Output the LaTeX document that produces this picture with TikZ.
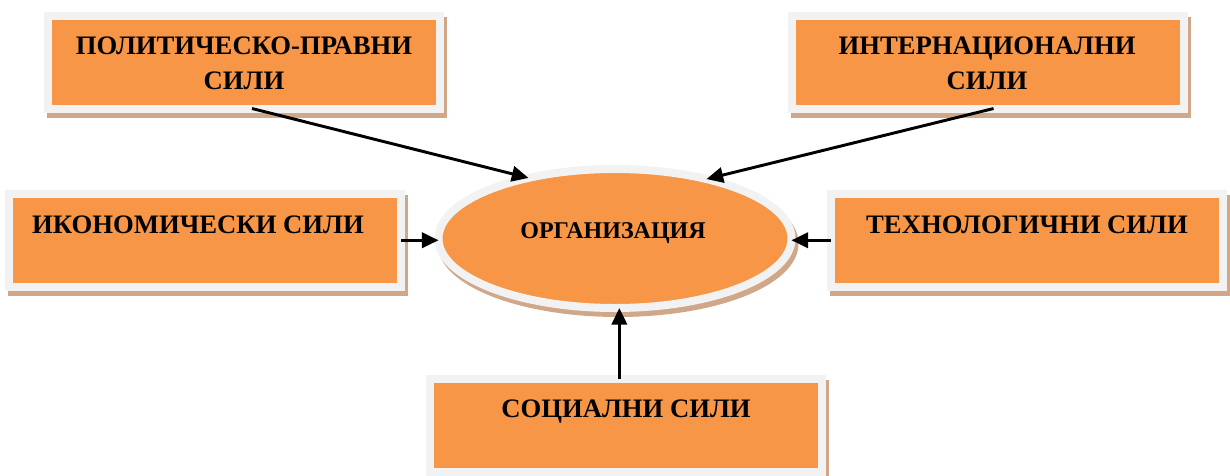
\documentclass[tikz,border=0pt]{standalone}
\usepackage{fontspec}
\setmainfont{Liberation Serif}
\usetikzlibrary{shapes.geometric,arrows.meta}
\definecolor{forceorange}{HTML}{F79646}
\definecolor{rimgray}{HTML}{F2F2F2}
\definecolor{shadowtan}{HTML}{D0A789}

\begin{document}
\begin{tikzpicture}[x=0.75pt,y=-0.75pt,
  withshadow/.style={preaction={draw=shadowtan, fill=shadowtan,
      transform canvas={shift={(3,5)}}}},
  forcebox/.style={rectangle, fill=forceorange, draw=rimgray, line width=6pt,
    outer sep=0pt, inner sep=0pt, minimum width=294pt, minimum height=69.4pt,
    withshadow},
  orgshape/.style={ellipse, fill=forceorange, draw=rimgray, line width=6pt,
    outer sep=0pt, inner sep=0pt, minimum width=264.75pt, minimum height=104.25pt,
    withshadow},
  boxtext/.style={inner sep=0pt, align=center,
    font=\fontsize{20}{26.25}\selectfont\bfseries},
  orgtext/.style={inner sep=0pt, font=\fontsize{18}{21}\selectfont\bfseries},
  arr/.style={-{Triangle[length=12.5pt,width=11.5pt]}, line width=2.2pt, black}]

\useasboundingbox (0,0) rectangle (1230,475);

% central ellipse
\node[orgshape] (org) at (615,238.5) {};
\node[orgtext, anchor=base] (orglabel) at (613,238) {ОРГАНИЗАЦИЯ};

% surrounding forces
\node[forcebox] (pol)  at (244,62.25)   {};
\node[forcebox] (intl) at (987.5,62.25) {};
\node[forcebox] (eco)  at (205.25,240.25) {};
\node[forcebox] (tech) at (1027,240.25) {};
\node[forcebox] (soc)  at (626,425.25)  {};

\node[boxtext] (poltext)  at (244,63.5) {ПОЛИТИЧЕСКО-ПРАВНИ\\СИЛИ};
\node[boxtext] (intltext) at (987,63.5) {ИНТЕРНАЦИОНАЛНИ\\СИЛИ};
\node[boxtext, anchor=base] (ecotext)  at (198,233)  {ИКОНОМИЧЕСКИ СИЛИ};
\node[boxtext, anchor=base] (techtext) at (1027,233) {ТЕХНОЛОГИЧНИ СИЛИ};
\node[boxtext, anchor=base] (soctext)  at (626,417)  {СОЦИАЛНИ СИЛИ};

% arrows towards the organisation
\draw[arr] ([xshift=6]pol.south)   -- (org.145.5);
\draw[arr] ([xshift=4.5]intl.south) -- (org.33.8);
\draw[arr] (eco.east)  -- (eco.east -| org.west);
\draw[arr] (tech.west) -- (tech.west -| org.east);
\draw[arr] ([xshift=-5]soc.north) -- ([xshift=-5]soc.north |- org.south);
\end{tikzpicture}
\end{document}
